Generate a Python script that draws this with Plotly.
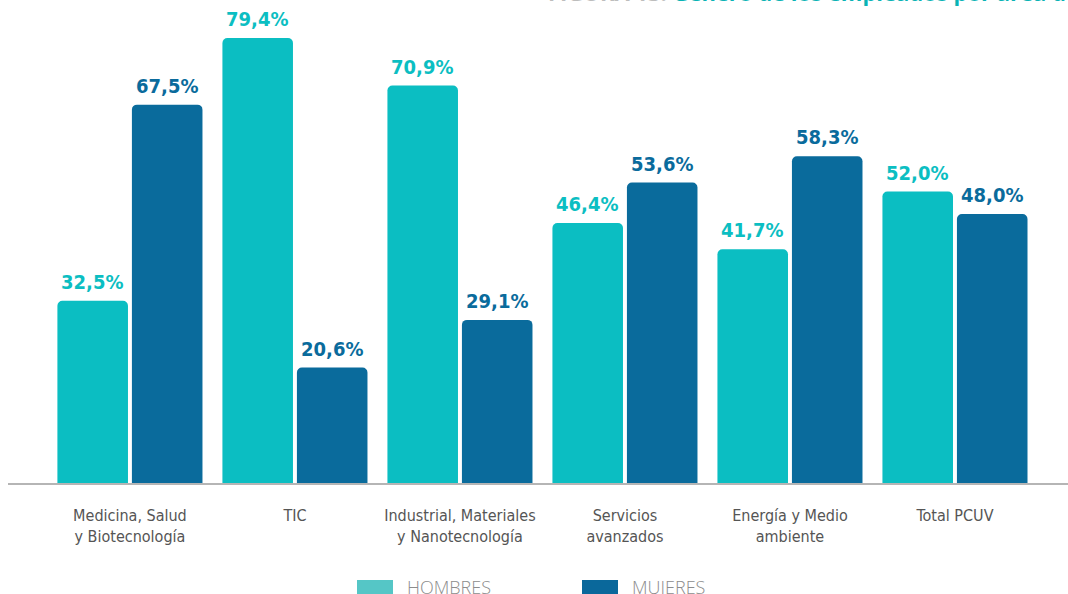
import plotly.graph_objects as go

categories = ["Medicina, Salud<br>y Biotecnología", "TIC", "Industrial, Materiales<br>y Nanotecnología",
              "Servicios<br>avanzados", "Energía y Medio<br>ambiente", "Total PCUV"]
hombres = [32.5, 79.4, 70.9, 46.4, 41.7, 52.0]
mujeres = [67.5, 20.6, 29.1, 53.6, 58.3, 48.0]
series_names = ["HOMBRES", "MUIERES"]

C_H = "#0BBEC2"
C_M = "#0A6B9C"
LEG_H = "#55C6C6"
LEG_M = "#0A689B"
LABEL_FONT = "DejaVu Sans Condensed, Roboto, sans-serif"


def fmt(v):
    return f"{v:.1f}".replace(".", ",") + "%"


x = list(range(len(categories)))
fig = go.Figure()
for vals, col in ((hombres, C_H), (mujeres, C_M)):
    fig.add_trace(go.Bar(
        x=x, y=vals, marker=dict(color=col, cornerradius=5, line=dict(width=0)),
        showlegend=False, hoverinfo="y",
    ))

# Value labels above each bar (offset left/right for the two series)
for vals, col, dx in ((hombres, C_H, -37.5), (mujeres, C_M, 37.5)):
    for xi, v in zip(x, vals):
        fig.add_annotation(x=xi, y=v, xshift=dx, yshift=5, yanchor="bottom",
                           showarrow=False, text=fmt(v),
                           font=dict(family=LABEL_FONT, size=20, color=col, weight="bold"))

fig.update_layout(
    width=1068, height=594,
    margin=dict(l=8, r=0, t=0, b=111),
    paper_bgcolor="white", plot_bgcolor="white",
    barmode="group", bargap=0.097, bargroupgap=0.053,
    xaxis=dict(range=[-0.739, 5.685], tickvals=x, ticktext=categories,
               showline=True, linecolor="#B5B5B5", linewidth=2,
               showgrid=False, zeroline=False, ticks="",
               ticklabelstandoff=17,
               tickfont=dict(family=LABEL_FONT, size=16, color="#555555")),
    yaxis=dict(range=[0, 86.17], visible=False, showgrid=False, zeroline=False),
)

# Title line, mostly above the page edge
fig.add_annotation(
    xref="paper", yref="paper", x=(546 - 8) / 1060, y=1 - 9 / 483,
    xanchor="left", yanchor="bottom", showarrow=False,
    text="<b><span style='color:#BDBDBD'>FIGURA 13.</span> Género de los empleados por área de actividad</b>",
    font=dict(family="Open Sans", size=22, color="#0AB3B5"),
)

# Legend drawn below the axis
for name, col, x0 in ((series_names[0], LEG_H, 357), (series_names[1], LEG_M, 582)):
    fig.add_shape(type="rect", xref="paper", yref="paper",
                  x0=(x0 - 8) / 1060, x1=(x0 + 36 - 8) / 1060,
                  y0=-(596 - 483) / 483, y1=-(580 - 483) / 483,
                  fillcolor=col, line=dict(width=0))
    fig.add_annotation(xref="paper", yref="paper", x=(x0 + 48 - 8) / 1060,
                       y=-(587 - 483) / 483, xanchor="left", yanchor="middle",
                       showarrow=False, text=name,
                       font=dict(family="Open Sans", size=18, color="#8C8C8C", weight=300))

fig.write_html("out.html")
